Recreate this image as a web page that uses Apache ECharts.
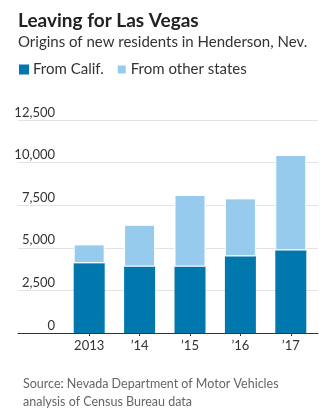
<!DOCTYPE html>
<html><head><meta charset="utf-8">
<script src="https://cdn.jsdelivr.net/npm/echarts@6/dist/echarts.min.js"></script>
<style>html,body{margin:0;padding:0;background:#fff}#c{width:329px;height:414px}</style>
</head><body><div id="c"></div>
<script>
const categories = ['2013', '\u201914', '\u201915', '\u201916', '\u201917'];
const fromCalif = [4100, 3900, 3900, 4500, 4850];
const fromOther = [1100, 2450, 4200, 3400, 5600];
const yTicks = [0, 2500, 5000, 7500, 10000, 12500];

const FONT = 'Lato';
const chart = echarts.init(document.getElementById('c'));
chart.setOption({
  animation: false,
  textStyle: { fontFamily: FONT },
  title: [
    { text: 'Leaving for Las Vegas', left: 13, top: 6,
      textStyle: { fontFamily: FONT, fontSize: 19, fontWeight: 'bold', color: '#222' },
      subtext: 'Origins of new residents in Henderson, Nev.', itemGap: 5,
      subtextStyle: { fontFamily: FONT, fontSize: 15, color: '#333' } },
    { text: 'Source: Nevada Department of Motor Vehicles\nanalysis of Census Bureau data', left: 18, top: 370,
      textStyle: { fontFamily: FONT, fontSize: 12.5, fontWeight: 'normal', color: '#666', lineHeight: 18 } }
  ],
  legend: {
    left: 14, top: 57, icon: 'rect', itemWidth: 10, itemHeight: 10, itemGap: 12,
    textStyle: { fontFamily: FONT, fontSize: 15, color: '#333', padding: [0, 0, 0, -1] },
    data: ['From Calif.', 'From other states']
  },
  grid: [
    { left: 18, right: 11, top: 120, bottom: 81 },
    { left: 64, right: 13, top: 120, bottom: 81 }
  ],
  xAxis: [
    { gridIndex: 0, type: 'value', min: 0, max: 1, show: true,
      axisLine: { show: true, lineStyle: { color: '#333', width: 1 } },
      axisTick: { show: false }, axisLabel: { show: false }, splitLine: { show: false } },
    { gridIndex: 1, type: 'category', data: categories,
      axisLine: { show: false },
      axisTick: { show: true, alignWithLabel: true, length: 3, lineStyle: { color: '#333' } },
      axisLabel: { color: '#333', fontSize: 13, margin: 6, fontFamily: FONT } }
  ],
  yAxis: [
    { gridIndex: 0, type: 'value', min: 0, max: 12500, interval: 2500,
      axisLine: { show: false }, axisTick: { show: false },
      splitLine: { lineStyle: { color: '#e3e3e3', width: 1 } },
      axisLabel: { color: '#333', fontSize: 13, fontFamily: FONT, align: 'right', verticalAlign: 'bottom',
        margin: -37, padding: [0, 0, 1, 0],
        formatter: v => yTicks.includes(v) ? v.toLocaleString('en-US') : '' } },
    { gridIndex: 1, type: 'value', min: 0, max: 12500, interval: 2500, show: false }
  ],
  series: [
    { name: 'From Calif.', type: 'bar', stack: 'a', xAxisIndex: 1, yAxisIndex: 1, data: fromCalif,
      barWidth: 31, itemStyle: { color: '#0077ad' } },
    { name: 'From other states', type: 'bar', stack: 'a', xAxisIndex: 1, yAxisIndex: 1, data: fromOther,
      barWidth: 31, itemStyle: { color: '#97cbee', borderColor: '#fff', borderWidth: 1 } }
  ]
});
</script></body></html>
